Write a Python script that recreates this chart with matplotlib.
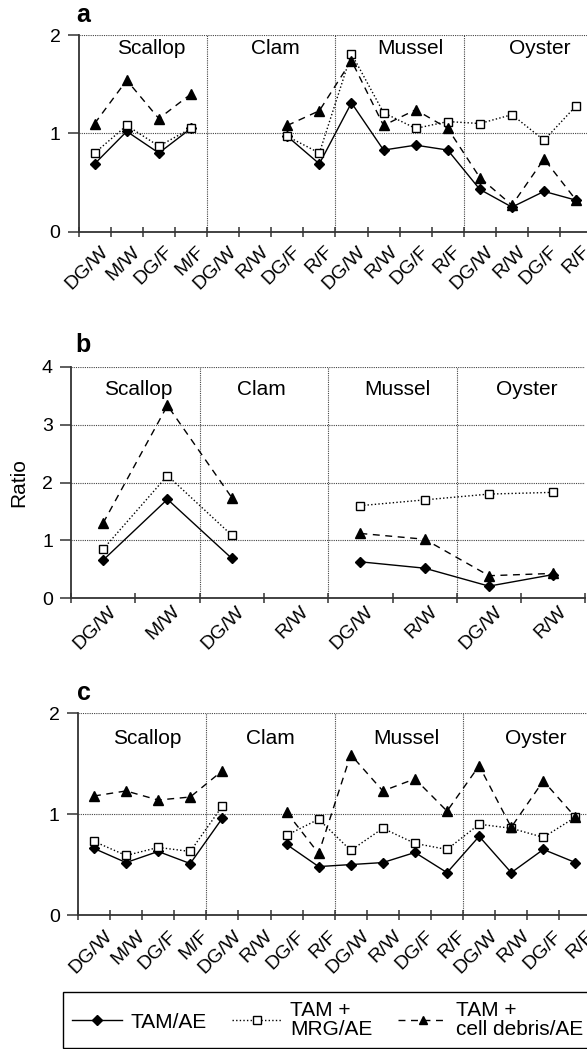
import numpy as np
import matplotlib
matplotlib.use('Agg')
import matplotlib.pyplot as plt
import matplotlib.transforms as mtransforms
from matplotlib.lines import Line2D

plt.rcParams['font.family'] = ['Liberation Sans', 'DejaVu Sans']

nan = np.nan
groups = ['Scallop', 'Clam', 'Mussel', 'Oyster']

# panel a / c categories (4 per group)
cats_ac = ['DG/W', 'M/W', 'DG/F', 'M/F',
           'DG/W', 'R/W', 'DG/F', 'R/F',
           'DG/W', 'R/W', 'DG/F', 'R/F',
           'DG/W', 'R/W', 'DG/F', 'R/F']
# panel b categories (2 per group)
cats_b = ['DG/W', 'M/W', 'DG/W', 'R/W', 'DG/W', 'R/W', 'DG/W', 'R/W']

a_tam = [0.69, 1.02, 0.80, 1.05, nan, nan, 0.97, 0.69,
         1.31, 0.83, 0.88, 0.83, 0.43, 0.25, 0.41, 0.32]
a_mrg = [0.80, 1.08, 0.87, 1.05, nan, nan, 0.97, 0.80,
         1.81, 1.21, 1.05, 1.12, 1.10, 1.19, 0.93, 1.28]
a_deb = [1.10, 1.54, 1.15, 1.40, nan, nan, 1.08, 1.23,
         1.74, 1.08, 1.24, 1.05, 0.55, 0.27, 0.74, 0.32]

b_tam = [0.66, 1.71, 0.69, nan, 0.63, 0.52, 0.21, 0.41]
b_mrg = [0.85, 2.12, 1.09, nan, 1.60, 1.70, 1.80, 1.83]
b_deb = [1.30, 3.33, 1.74, nan, 1.12, 1.02, 0.39, 0.43]

c_tam = [0.66, 0.52, 0.63, 0.51, 0.96, nan, 0.70, 0.48,
         0.50, 0.52, 0.62, 0.42, 0.78, 0.42, 0.65, 0.52]
c_mrg = [0.73, 0.59, 0.67, 0.63, 1.08, nan, 0.79, 0.95,
         0.64, 0.86, 0.71, 0.65, 0.90, 0.86, 0.77, 0.97]
c_deb = [1.18, 1.23, 1.14, 1.17, 1.43, nan, 1.02, 0.61,
         1.59, 1.23, 1.35, 1.03, 1.48, 0.87, 1.33, 0.97]

legend_labels = ['TAM/AE', 'TAM +\nMRG/AE', 'TAM +\ncell debris/AE']

W, H = 587, 1049
fig = plt.figure(figsize=(W / 100, H / 100), dpi=100)

axcol = '#333333'
styles = [dict(color='black', ls='-', lw=1.0, marker='D', ms=5.2, mfc='black', mec='black'),
          dict(color='black', ls=(0, (1, 1.6)), lw=1.0, marker='s', ms=6.2, mfc='white', mec='black', mew=1.0),
          dict(color='black', ls=(0, (5, 4)), lw=1.0, marker='^', ms=6.8, mfc='black', mec='black')]


def px_axes(left, right, top, bottom):
    return fig.add_axes([left / W, 1 - bottom / H, (right - left) / W, (bottom - top) / H])


def panel(ax, cats, series, ymax, per_group, lab_x, lab_y, letter, letter_xy, lab_dx, lab_pad):
    n = len(cats)
    x = np.arange(n) + 0.5
    for s, st in zip(series, styles):
        ax.plot(x, s, clip_on=False, zorder=3, **st)
    ax.set_xlim(0, n)
    ax.set_ylim(0, ymax)
    for sp in ['top', 'right']:
        ax.spines[sp].set_visible(False)
    for sp in ['left', 'bottom']:
        ax.spines[sp].set_color(axcol)
        ax.spines[sp].set_linewidth(1.3)
    ax.set_xticks(np.arange(n + 1))
    ax.set_xticklabels([])
    ax.set_xticks(x, cats, minor=True)
    ax.tick_params(axis='x', which='major', direction='inout', length=7, width=1.1, color=axcol)
    ax.tick_params(axis='x', which='minor', length=0, labelsize=14, pad=lab_pad)
    shift = mtransforms.ScaledTranslation(lab_dx / 100, 0, fig.dpi_scale_trans)
    for t in ax.get_xticklabels(minor=True):
        t.set_rotation(45)
        t.set_ha('right')
        t.set_va('top')
        t.set_rotation_mode('anchor')
        t.set_transform(t.get_transform() + shift)
    ax.set_yticks(np.arange(ymax + 1))
    ax.tick_params(axis='y', direction='out', length=8, width=1.1, color=axcol, labelsize=14, pad=5)
    for yv in range(1, ymax + 1):
        ax.axhline(yv, color='#444444', lw=0.8, ls=(0, (1, 1)), zorder=1)
    for g in range(1, 4):
        ax.axvline(g * per_group, color='#444444', lw=0.8, ls=(0, (1, 1)), zorder=1)
    for g, gx in zip(groups, lab_x):
        ax.text(gx, lab_y, g, ha='center', va='baseline', fontsize=15)
    fig.text(letter_xy[0] / W, 1 - letter_xy[1] / H, letter, fontsize=18,
             fontweight='bold', va='baseline', ha='left')


ax_a = px_axes(78.6, 78.6 + 513.6, 35, 231.7)
panel(ax_a, cats_ac, [a_tam, a_mrg, a_deb], 2, 4,
      [2.26, 6.12, 10.35, 14.37], 1.805, 'a', (76, 22), 5.0, 8.2)

ax_b = px_axes(71, 71 + 514.4, 366.7, 598.3)
panel(ax_b, cats_b, [b_tam, b_mrg, b_deb], 4, 2,
      [1.04, 2.96, 5.07, 7.09], 3.51, 'b', (75, 352), 4.4, 3.2)
ax_b.set_ylabel('Ratio', fontsize=15, labelpad=10)

ax_c = px_axes(77.9, 77.9 + 513.6, 713.3, 915)
panel(ax_c, cats_ac, [c_tam, c_mrg, c_deb], 2, 4,
      [2.15, 6.0, 10.22, 14.27], 1.695, 'c', (77, 700), 10, 8.9)

handles = [Line2D([], [], **dict(st, ms=st['ms'] * 0.9)) for st in styles]
leg = fig.legend(handles, legend_labels, loc='lower left', bbox_to_anchor=(63 / W, 1 / H),
                 ncol=3, frameon=True, fancybox=False, edgecolor='black', fontsize=15,
                 handlelength=2.4, handletextpad=0.4, columnspacing=1.2, borderpad=0.45,
                 borderaxespad=0, framealpha=1, labelspacing=0.2)
leg.get_frame().set_linewidth(1.0)
for t in leg.get_texts():
    t.set_linespacing(0.95)

fig.savefig('out.png', dpi=100)
